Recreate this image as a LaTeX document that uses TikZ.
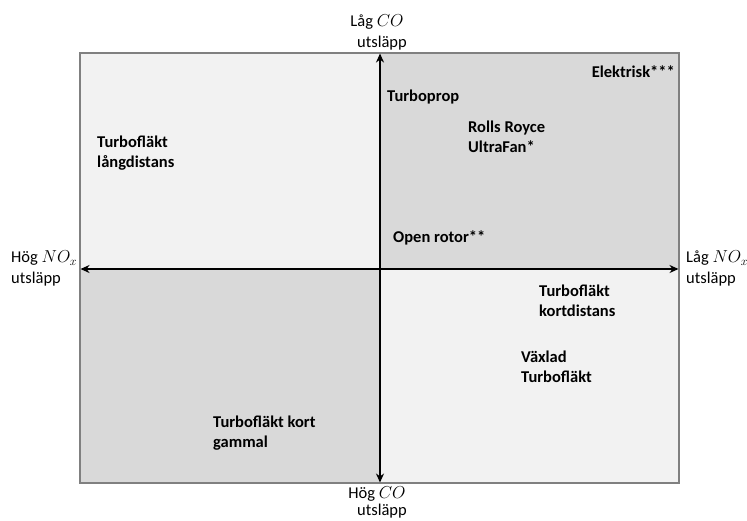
\documentclass[tikz,border=0pt]{standalone}
\usepackage{fontspec}
\setmainfont{Carlito}
\usetikzlibrary{arrows.meta}
\definecolor{lightq}{HTML}{F2F2F2}
\definecolor{darkq}{HTML}{D9D9D9}
\definecolor{frame}{HTML}{808080}
\tikzset{
  lbl/.style={font=\bfseries\fontsize{16.5}{20.5}\selectfont, align=left, anchor=west, inner sep=0pt},
  axlbl/.style={font=\fontsize{16.5}{21}\selectfont, inner sep=0pt},
  axis/.style={line width=2pt, {Stealth[length=9pt,width=8pt]}-{Stealth[length=9pt,width=8pt]}},
}
\begin{document}
\begin{tikzpicture}[x=1pt,y=-1pt]
\useasboundingbox (0,0) rectangle (747,520);
% quadrants
\fill[lightq] (80,53) rectangle (380,269);
\fill[darkq] (380,53) rectangle (679,269);
\fill[darkq] (80,269) rectangle (380,483);
\fill[lightq] (380,269) rectangle (679,483);
\draw[frame, line width=1.5pt] (80,53) rectangle (679,483);
% axis end coordinates
\coordinate (top) at (380,53.5);
\coordinate (bot) at (380,482.5);
\coordinate (lft) at (80.5,269);
\coordinate (rgt) at (678.5,269);
\draw[axis] (bot) -- (top);
\draw[axis] (lft) -- (rgt);
% axis labels
\node[axlbl] (t1) at (377,22) {Låg $CO$};
\node[axlbl] (t2) at (382,43) {utsläpp};
\node[axlbl, anchor=west] (l1) at (11,258) {Hög $NO_x$};
\node[axlbl, anchor=west] (l2) at (11,279) {utsläpp};
\node[axlbl, anchor=west] (r1) at (686,258) {Låg $NO_x$};
\node[axlbl, anchor=west] (r2) at (686,279) {utsläpp};
\node[axlbl] (b1) at (377,494) {Hög $CO$};
\node[axlbl] (b2) at (382,511) {utsläpp};
% item labels
\node[lbl, anchor=east] (el) at (675,72) {Elektrisk***};
\node[lbl] (tp) at (387,97) {Turboprop};
\node[lbl] (rr) at (468,137) {Rolls Royce\\UltraFan*};
\node[lbl] (tl) at (97,153) {Turbofläkt\\långdistans};
\node[lbl] (or) at (393,238) {Open rotor**};
\node[lbl] (tk) at (539,301) {Turbofläkt\\kortdistans};
\node[lbl] (vt) at (521,367) {Växlad\\Turbofläkt};
\node[lbl] (tg) at (213,433) {Turbofläkt kort\\gammal};
\end{tikzpicture}
\end{document}
